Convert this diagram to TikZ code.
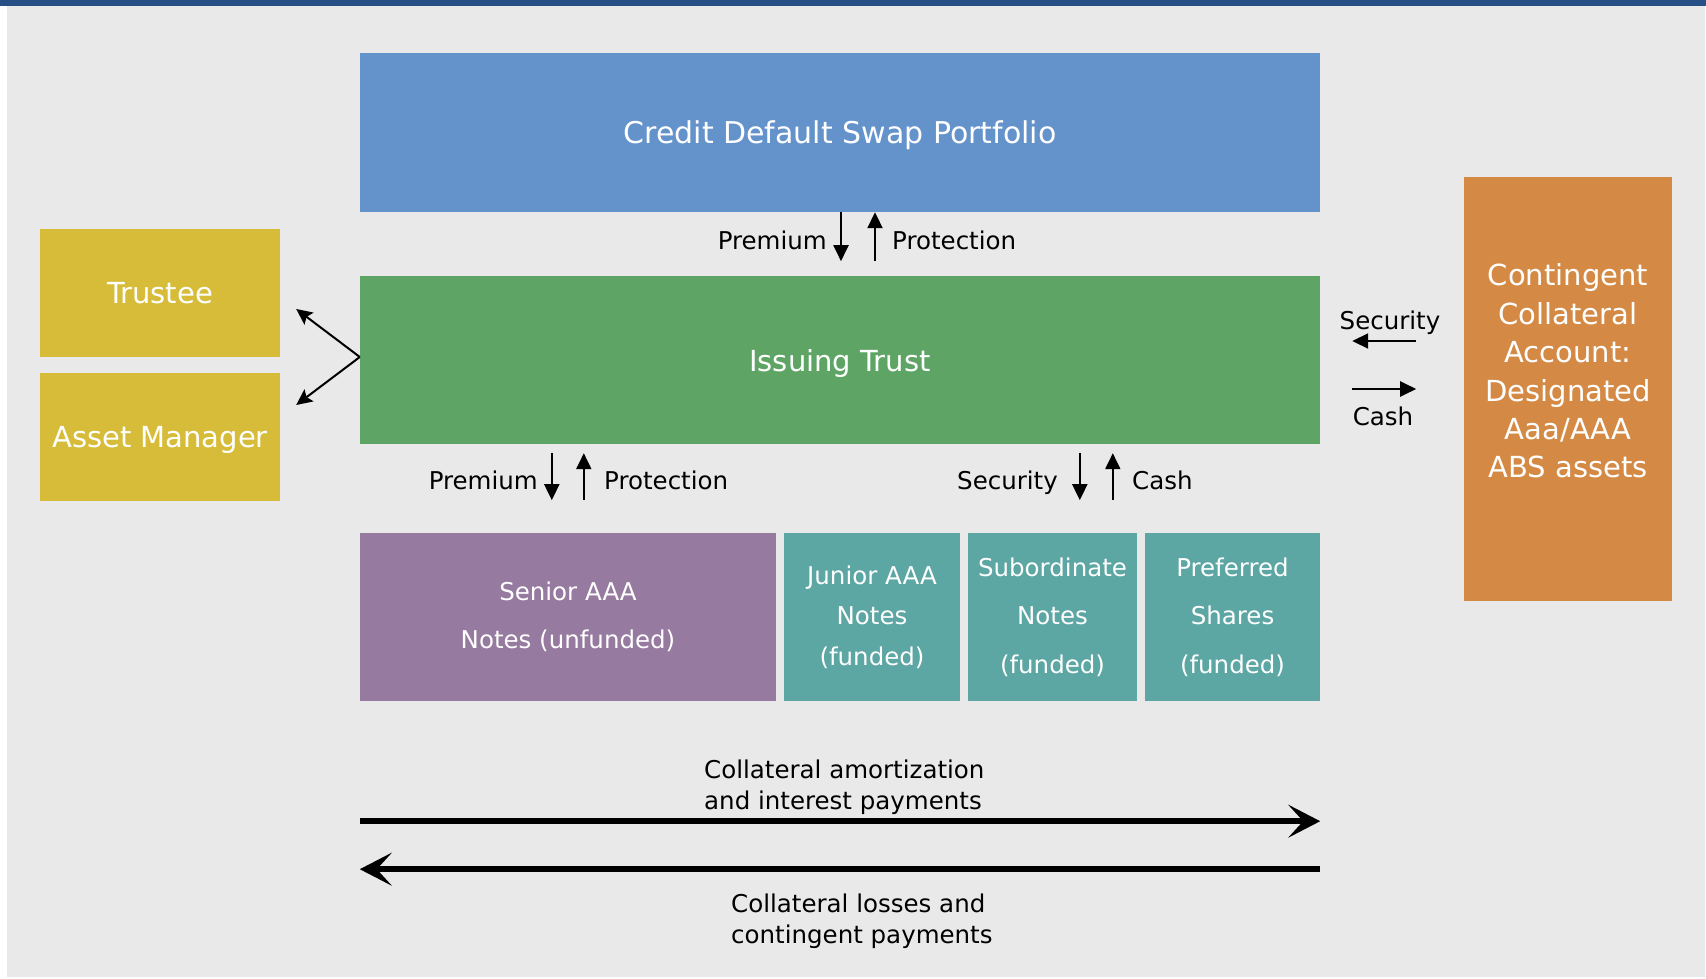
\documentclass[tikz,border=0pt]{standalone}
\usepackage{fontspec}
\setmainfont{DejaVu Sans}
\usetikzlibrary{arrows.meta,calc}
\definecolor{topbar}{HTML}{274E85}
\definecolor{bggray}{HTML}{E9E9E9}
\definecolor{cdsblue}{HTML}{6492CB}
\definecolor{trustgreen}{HTML}{5EA565}
\definecolor{mgryellow}{HTML}{D7BC39}
\definecolor{ccaorange}{HTML}{D48A45}
\definecolor{senpurple}{HTML}{967AA0}
\definecolor{trteal}{HTML}{5CA6A3}
\begin{document}
\begin{tikzpicture}[x=1pt,y=-1pt,
  box/.style={rectangle, draw=none, inner sep=0pt, text=white, align=center},
  onebox/.style={box, text depth=0pt},
  title/.style={font=\fontsize{29}{35}\selectfont},
  lbl/.style={inner sep=0pt, text=black, font=\fontsize{24.5}{31}\selectfont},
  trfont/.style={font=\fontsize{24.5}{48.5}\selectfont},
  sarr/.style={line width=2pt, -{Triangle[length=16pt,width=15pt]}},
  darr/.style={line width=2pt, -{Stealth[length=16pt,width=15pt,inset=3pt]}},
  barr/.style={line width=6pt, -{Stealth[length=32pt,width=33pt,inset=15pt]}}
]
\useasboundingbox (0,0) rectangle (1706,979);
\fill[white] (0,0) rectangle (1706,979);
\fill[bggray] (7,6) rectangle (1705,977);
\fill[topbar] (0,0) rectangle (1706,6);

% main boxes
\node[onebox, fill=cdsblue, minimum width=960pt, minimum height=159pt, font=\fontsize{30}{36}\selectfont] (cds) at (840,132.5) {Credit Default Swap Portfolio};
\node[onebox, title, fill=trustgreen, minimum width=960pt, minimum height=168pt] (trust) at (840,360) {Issuing Trust};
\node[onebox, title, fill=mgryellow, minimum width=240pt, minimum height=128pt] (trustee) at (160,293) {Trustee};
\node[onebox, title, fill=mgryellow, minimum width=240pt, minimum height=128pt] (mgr) at (160,437) {Asset Manager};
\node[box, fill=ccaorange, minimum width=208pt, minimum height=424pt] (cca) at (1568,389) {};
\node[box, title, font=\fontsize{29}{38.4}\selectfont] (ccatext) at (1568,371) {Contingent\\Collateral\\Account:\\Designated\\Aaa/AAA\\ABS assets};

% tranches
\node[box, trfont, fill=senpurple, minimum width=416pt, minimum height=168pt] (senior) at (568,617) {Senior AAA\\Notes (unfunded)};
\node[box, font=\fontsize{24.5}{40.5}\selectfont, fill=trteal, minimum width=176pt, minimum height=168pt] (junior) at (872,617) {Junior AAA\\Notes\\(funded)};
\node[box, trfont, fill=trteal, minimum width=169pt, minimum height=168pt] (sub) at (1052.5,617) {Subordinate\\Notes\\(funded)};
\node[box, trfont, fill=trteal, minimum width=175pt, minimum height=168pt] (pref) at (1232.5,617) {Preferred\\Shares\\(funded)};

% CDS <-> trust
\draw[sarr] ($(cds.south)+(1,0)$) -- ($(cds.south)+(1,49)$);
\draw[sarr] ($(cds.south)+(35,49)$) -- ($(cds.south)+(35,0)$);
\node[lbl, anchor=base east] (l1) at (827,249) {Premium};
\node[lbl, anchor=base west] (l2) at (892,249) {Protection};

% trust <-> tranches
\draw[sarr] ($(trust.south west)+(192,9)$) -- ($(trust.south west)+(192,56)$);
\draw[sarr] ($(trust.south west)+(224,56)$) -- ($(trust.south west)+(224,9)$);
\node[lbl, anchor=base east] (l3) at (538,489) {Premium};
\node[lbl, anchor=base west] (l4) at (604,489) {Protection};
\draw[sarr] ($(trust.south west)+(720,9)$) -- ($(trust.south west)+(720,56)$);
\draw[sarr] ($(trust.south west)+(753,56)$) -- ($(trust.south west)+(753,9)$);
\node[lbl, anchor=base east] (l5) at (1058,489) {Security};
\node[lbl, anchor=base west] (l6) at (1132,489) {Cash};

% trust <-> cca
\draw[sarr] ($(trust.east)+(96,-19)$) -- ($(trust.east)+(32,-19)$);
\draw[sarr] ($(trust.east)+(32,29)$) -- ($(trust.east)+(96,29)$);
\node[lbl, anchor=base] (l7) at (1390,329) {Security};
\node[lbl, anchor=base] (l8) at (1383,425) {Cash};

% trust -> trustee / manager
\coordinate (apex) at ($(trust.west)+(0,-3)$);
\draw[darr] (apex) -- ($(trustee.east)+(16,16)$);
\draw[darr] (apex) -- ($(mgr.east)+(16,-32)$);

% big arrows
\draw[barr] ($(senior.south west)+(0,120)$) -- ($(pref.south east)+(0,120)$);
\draw[barr] ($(pref.south east)+(0,168)$) -- ($(senior.south west)+(0,168)$);
\node[lbl, align=left, anchor=base west] (l9) at (704,809) {Collateral amortization\\and interest payments};
\node[lbl, align=left, anchor=base west] (l10) at (731,943) {Collateral losses and\\contingent payments};
\end{tikzpicture}
\end{document}
